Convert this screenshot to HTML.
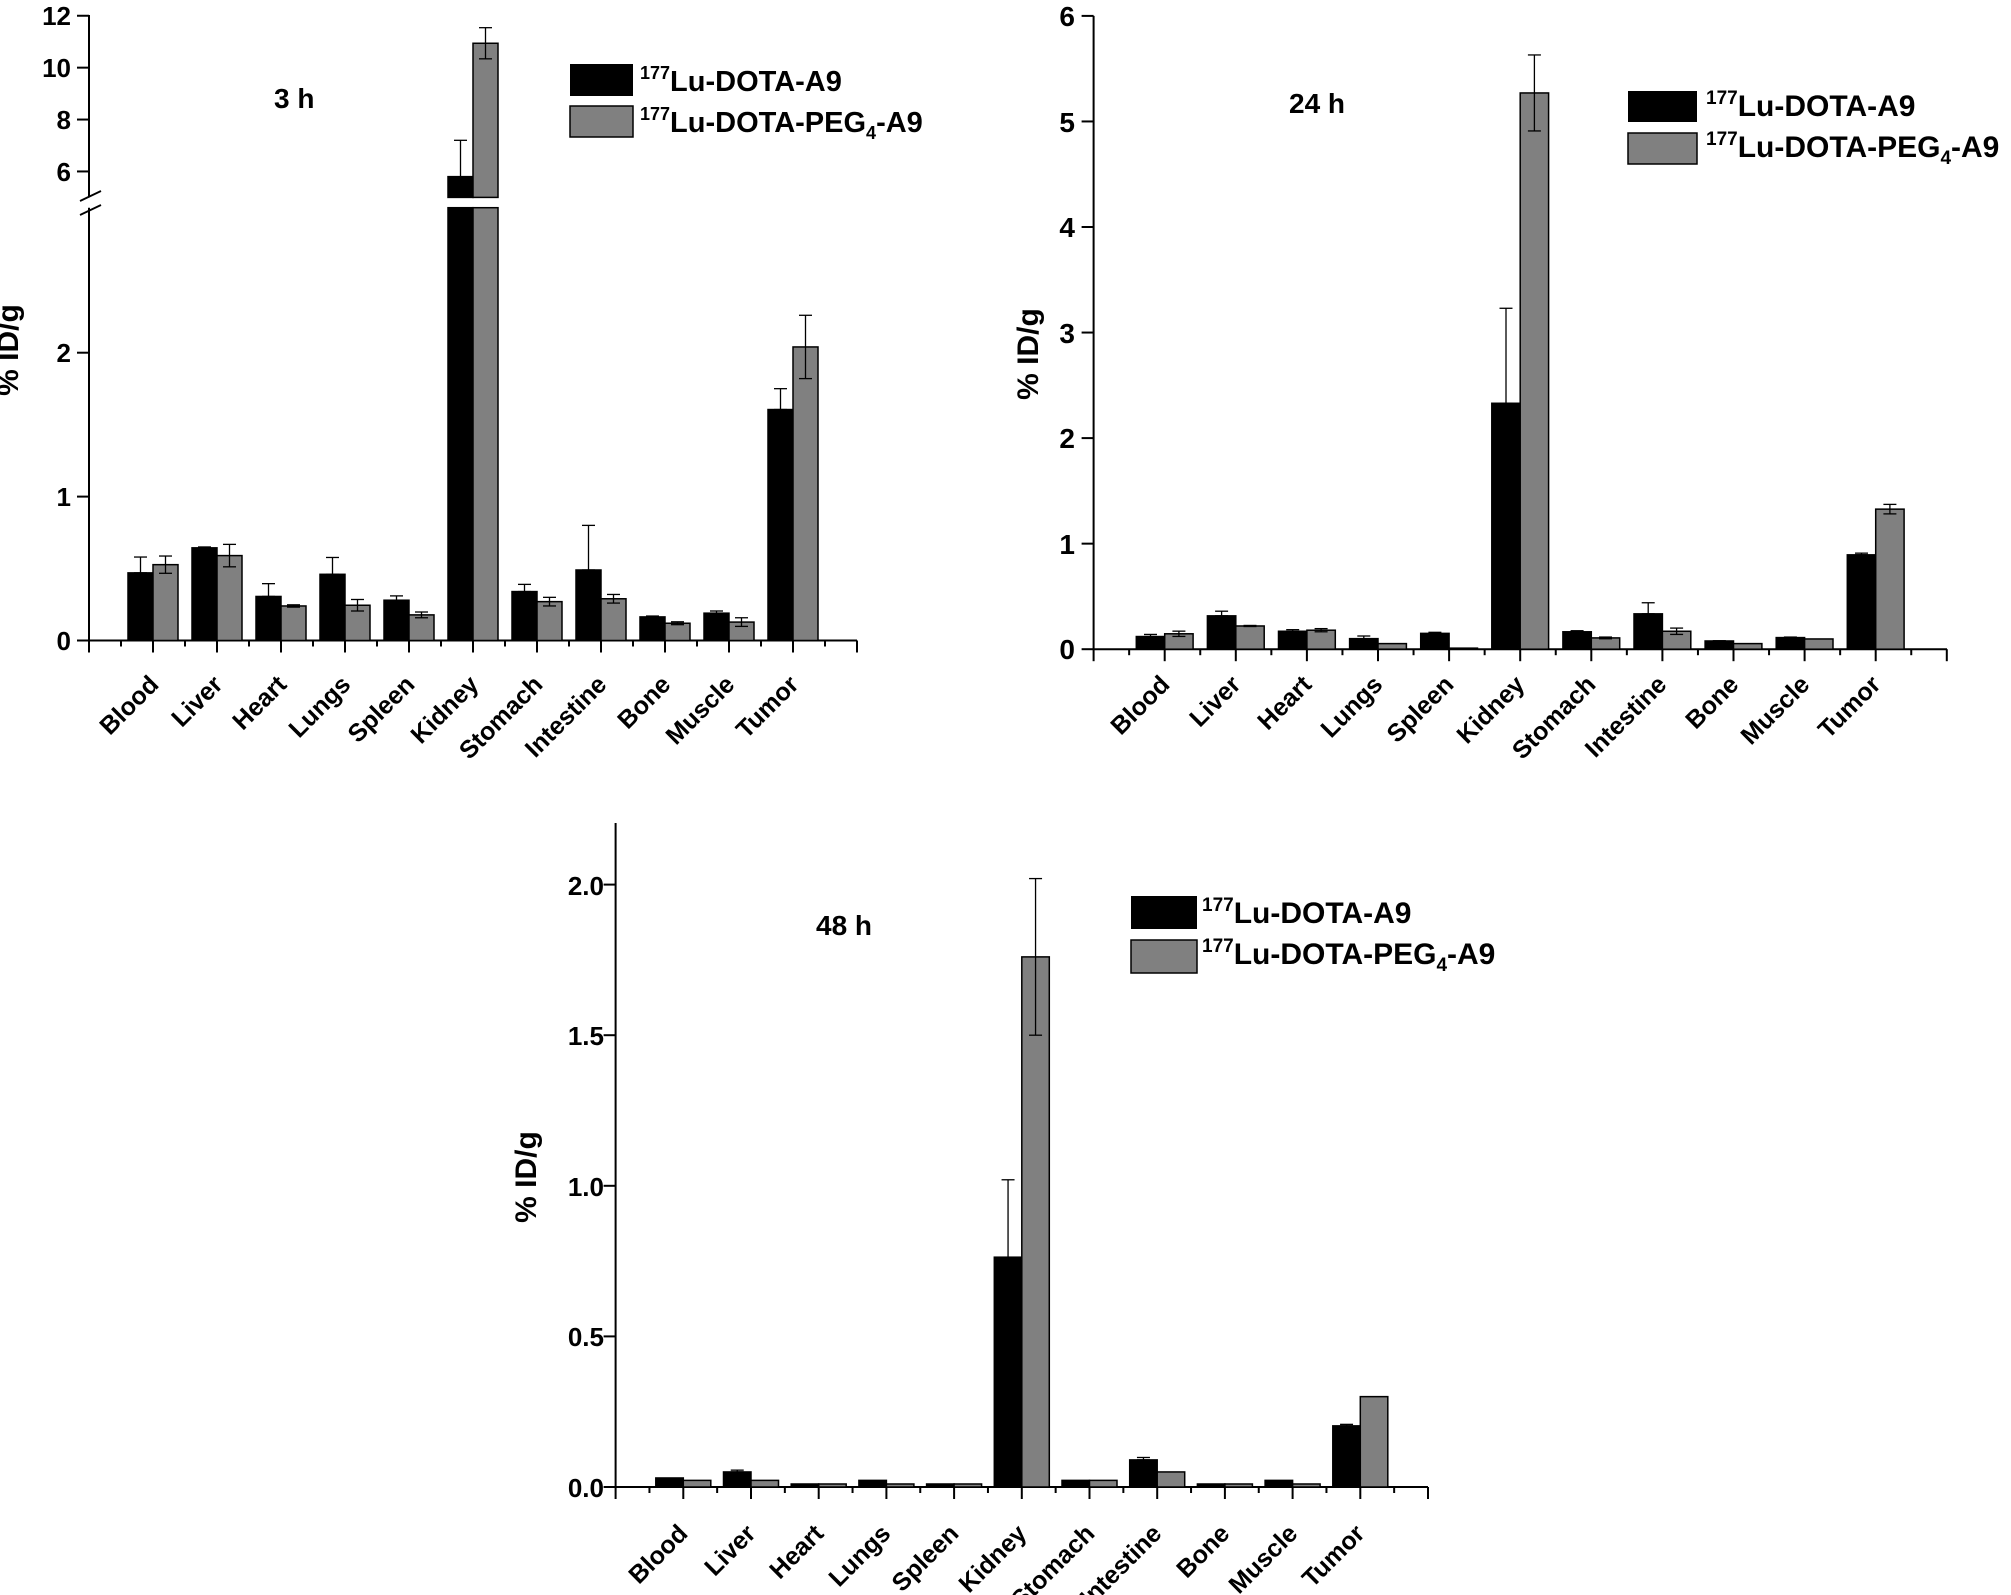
<!DOCTYPE html>
<html><head><meta charset="utf-8"><style>
html,body{margin:0;padding:0;background:#fff;}
svg{display:block;}
text{font-family:"Liberation Sans",Arial,sans-serif;font-weight:bold;fill:#000;}
</style></head><body>
<svg id="s" width="2011" height="1595" viewBox="0 0 2011 1595" xmlns="http://www.w3.org/2000/svg">
<g id="g"></g>
<!-- Panel 1 -->
<g font-size="26" text-anchor="end">
<text x="71" y="650">0</text><text x="71" y="506">1</text><text x="71" y="362">2</text>
<text x="71" y="181">6</text><text x="71" y="129">8</text><text x="71" y="77">10</text><text x="71" y="25">12</text>
</g>
<text font-size="30" transform="translate(18,350) rotate(-90)" text-anchor="middle">% ID/g</text>
<text x="274" y="108" font-size="28">3 h</text>
<rect x="570" y="64" width="63" height="32" fill="#000"/>
<rect x="570" y="106" width="63" height="31" fill="#808080" stroke="#000" stroke-width="1.5"/>
<text x="640" y="91" font-size="29"><tspan font-size="18" dy="-12">177</tspan><tspan dy="12">Lu-DOTA-A9</tspan></text>
<text x="640" y="132" font-size="29"><tspan font-size="18" dy="-12">177</tspan><tspan dy="12">Lu-DOTA-PEG</tspan><tspan font-size="18" dy="7">4</tspan><tspan dy="-7">-A9</tspan></text>
<g font-size="25" text-anchor="end">
<text transform="translate(160,686) rotate(-45)">Blood</text>
<text transform="translate(224,686) rotate(-45)">Liver</text>
<text transform="translate(288,686) rotate(-45)">Heart</text>
<text transform="translate(352,686) rotate(-45)">Lungs</text>
<text transform="translate(416,686) rotate(-45)">Spleen</text>
<text transform="translate(480,686) rotate(-45)">Kidney</text>
<text transform="translate(544,686) rotate(-45)">Stomach</text>
<text transform="translate(608,686) rotate(-45)">Intestine</text>
<text transform="translate(672,686) rotate(-45)">Bone</text>
<text transform="translate(736,686) rotate(-45)">Muscle</text>
<text transform="translate(800,686) rotate(-45)">Tumor</text>
</g>
<!-- Panel 2 -->
<g font-size="28" text-anchor="end">
<text x="1075" y="659">0</text><text x="1075" y="554">1</text><text x="1075" y="448">2</text><text x="1075" y="343">3</text>
<text x="1075" y="237">4</text><text x="1075" y="132">5</text><text x="1075" y="26">6</text>
</g>
<text font-size="30" transform="translate(1038,354) rotate(-90)" text-anchor="middle">% ID/g</text>
<text x="1289" y="113" font-size="28">24 h</text>
<rect x="1628" y="91" width="69" height="31" fill="#000"/>
<rect x="1628" y="133" width="69" height="31" fill="#808080" stroke="#000" stroke-width="1.5"/>
<text x="1706" y="116" font-size="30"><tspan font-size="19" dy="-12">177</tspan><tspan dy="12">Lu-DOTA-A9</tspan></text>
<text x="1706" y="157" font-size="30"><tspan font-size="19" dy="-12">177</tspan><tspan dy="12">Lu-DOTA-PEG</tspan><tspan font-size="19" dy="7">4</tspan><tspan dy="-7">-A9</tspan></text>
<g font-size="25" text-anchor="end">
<text transform="translate(1171,686) rotate(-45)">Blood</text>
<text transform="translate(1242,686) rotate(-45)">Liver</text>
<text transform="translate(1313,686) rotate(-45)">Heart</text>
<text transform="translate(1384,686) rotate(-45)">Lungs</text>
<text transform="translate(1455,686) rotate(-45)">Spleen</text>
<text transform="translate(1526,686) rotate(-45)">Kidney</text>
<text transform="translate(1597,686) rotate(-45)">Stomach</text>
<text transform="translate(1668,686) rotate(-45)">Intestine</text>
<text transform="translate(1740,686) rotate(-45)">Bone</text>
<text transform="translate(1811,686) rotate(-45)">Muscle</text>
<text transform="translate(1882,686) rotate(-45)">Tumor</text>
</g>
<!-- Panel 3 -->
<g font-size="26" text-anchor="end">
<text x="604" y="1497">0.0</text><text x="604" y="1346">0.5</text><text x="604" y="1196">1.0</text>
<text x="604" y="1045">1.5</text><text x="604" y="895">2.0</text>
</g>
<text font-size="30" transform="translate(536,1177) rotate(-90)" text-anchor="middle">% ID/g</text>
<text x="816" y="935" font-size="28">48 h</text>
<rect x="1131" y="896" width="66" height="33" fill="#000"/>
<rect x="1131" y="940" width="66" height="33" fill="#808080" stroke="#000" stroke-width="1.5"/>
<text x="1202" y="923" font-size="30"><tspan font-size="19" dy="-12">177</tspan><tspan dy="12">Lu-DOTA-A9</tspan></text>
<text x="1202" y="964" font-size="30"><tspan font-size="19" dy="-12">177</tspan><tspan dy="12">Lu-DOTA-PEG</tspan><tspan font-size="19" dy="7">4</tspan><tspan dy="-7">-A9</tspan></text>
<g font-size="25" text-anchor="end">
<text transform="translate(689,1535) rotate(-45)">Blood</text>
<text transform="translate(757,1535) rotate(-45)">Liver</text>
<text transform="translate(825,1535) rotate(-45)">Heart</text>
<text transform="translate(892,1535) rotate(-45)">Lungs</text>
<text transform="translate(960,1535) rotate(-45)">Spleen</text>
<text transform="translate(1028,1535) rotate(-45)">Kidney</text>
<text transform="translate(1096,1535) rotate(-45)">Stomach</text>
<text transform="translate(1163,1535) rotate(-45)">Intestine</text>
<text transform="translate(1231,1535) rotate(-45)">Bone</text>
<text transform="translate(1299,1535) rotate(-45)">Muscle</text>
<text transform="translate(1366,1535) rotate(-45)">Tumor</text>
</g>
</svg>
<script>
(function(){
var g=document.getElementById('g'),NS='http://www.w3.org/2000/svg';
function el(t,a){var e=document.createElementNS(NS,t);for(var k in a)e.setAttribute(k,a[k]);g.appendChild(e);return e;}
function line(x1,y1,x2,y2,w){el('line',{x1:x1,y1:y1,x2:x2,y2:y2,stroke:'#000','stroke-width':w||2});}
function err(x,y1,y2){line(x,y1,x,y2,1.3);line(x-6.5,y1,x+6.5,y1,1.3);line(x-6.5,y2,x+6.5,y2,1.3);}
function panel(P){
  var y0=P.map(0);
  if(P.brk){line(P.x0,P.top,P.x0,P.brk[0]);line(P.x0,P.brk[1],P.x0,y0);
    line(P.x0-9,201,P.x0+12,191,1.8);line(P.x0-9,215,P.x0+12,205,1.8);}
  else line(P.x0,P.top,P.x0,y0);
  line(P.x0-1,y0,P.x1,y0);
  for(var i=0;i<P.yt.length;i++){var yy=P.map(P.yt[i]);line(P.x0-12,yy,P.x0,yy);}
  for(var k=0;k<=24;k++){var xx=P.x0+k*P.u/2;line(xx,y0,xx,y0+(k%2?6:12));}
  for(var i=0;i<11;i++){
    var c=P.x0+P.u*(i+1);
    var b=P.b[i],gv=P.gr[i];
    drawBar(P,c-P.bw,b[0],'#000');
    if(b[1]>b[0]) err(c-P.bw/2,P.map(b[1]),P.map(b[0]));
    drawBar(P,c,gv[0],'#808080');
    if(gv[1]>0){err(c+P.bw/2,P.map(gv[0]+gv[1]),P.map(Math.max(0,gv[0]-gv[1])));}
  }
}
function drawBar(P,x,v,f){
  var y0=P.map(0);
  if(P.brk && v>3){
    el('rect',{x:x,y:P.brk[1],width:P.bw,height:y0-P.brk[1],fill:f,stroke:'#000','stroke-width':1.5});
    var yt=P.map(v);
    el('rect',{x:x,y:yt,width:P.bw,height:P.brk[0]-yt,fill:f,stroke:'#000','stroke-width':1.5});
  } else {
    var yt=P.map(v);
    el('rect',{x:x,y:yt,width:P.bw,height:Math.max(0.5,y0-yt),fill:f,stroke:'#000','stroke-width':1.5});
  }
}
panel({x0:89,x1:857,u:64,bw:25,top:15,brk:[197.4,207.7],
  map:function(v){return v<=3?640.5-v*143.9:197.4-(v-5)*25.95;},
  yt:[0,1,2,6,8,10,12],
  b:[[0.47,0.58],[0.644,0.65],[0.306,0.395],[0.46,0.577],[0.28,0.31],[5.8,7.2],[0.34,0.39],[0.49,0.80],[0.164,0.17],[0.19,0.205],[1.605,1.75]],
  gr:[[0.527,0.06],[0.59,0.078],[0.24,0.008],[0.245,0.04],[0.178,0.02],[10.94,0.6],[0.27,0.03],[0.29,0.03],[0.12,0.01],[0.128,0.03],[2.04,0.22]]});
panel({x0:1093.6,x1:1947,u:71.1,bw:28.4,top:15.9,
  map:function(v){return 649.2-v*105.55;},
  yt:[0,1,2,3,4,5,6],
  b:[[0.12,0.14],[0.316,0.36],[0.17,0.185],[0.10,0.125],[0.15,0.16],[2.33,3.23],[0.165,0.175],[0.335,0.44],[0.078,0.08],[0.11,0.115],[0.894,0.91]],
  gr:[[0.146,0.025],[0.22,0.005],[0.18,0.015],[0.053,0],[0.01,0],[5.27,0.36],[0.107,0.008],[0.17,0.03],[0.053,0],[0.097,0],[1.327,0.045]]});
panel({x0:615.6,x1:1428,u:67.7,bw:27.5,top:823,
  map:function(v){return 1487-v*301.2;},
  yt:[0,0.5,1,1.5,2],
  b:[[0.03,0.03],[0.05,0.056],[0.01,0.01],[0.022,0.022],[0.01,0.01],[0.763,1.02],[0.022,0.022],[0.09,0.098],[0.01,0.01],[0.022,0.022],[0.203,0.208]],
  gr:[[0.022,0],[0.022,0],[0.01,0],[0.01,0],[0.01,0],[1.76,0.26],[0.022,0],[0.05,0],[0.01,0],[0.01,0],[0.30,0]]});
})();
</script>
</body></html>
